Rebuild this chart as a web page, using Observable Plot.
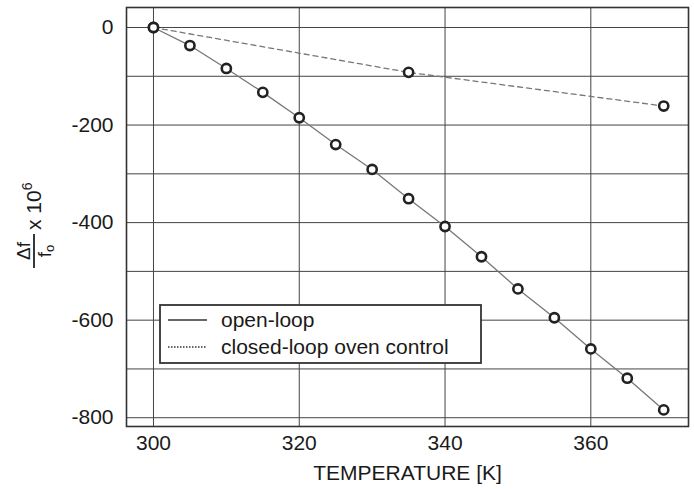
<!DOCTYPE html>
<html>
<head>
<meta charset="utf-8">
<script src="https://cdn.jsdelivr.net/npm/d3@7"></script>
<script src="https://cdn.jsdelivr.net/npm/@observablehq/plot@0.6"></script>
<style>
  html, body { margin: 0; padding: 0; background: #fff; }
  #chart { width: 694px; height: 489px; }
</style>
</head>
<body>
<div id="chart"></div>
<script>
// Data
const openTemps  = [300, 305, 310, 315, 320, 325, 330, 335, 340, 345, 350, 355, 360, 365, 370];
const openValues = [0, -37, -84, -133, -185, -240, -291, -351, -408, -470, -536, -595, -659, -719, -784];
const closedTemps  = [300, 335, 370];
const closedValues = [0, -92, -161];
const xTicks = [300, 320, 340, 360];
const yTicks = [0, -200, -400, -600, -800];
const yGrid = [0, -100, -200, -300, -400, -500, -600, -700, -800];
const xLabel = "TEMPERATURE [K]";
const seriesNames = ["open-loop", "closed-loop oven control"];

const openData = openTemps.map((t, i) => ({t, v: openValues[i]}));
const closedData = closedTemps.map((t, i) => ({t, v: closedValues[i]}));

const font = "'Liberation Sans', Arial, Helvetica, sans-serif";

const svg = Plot.plot({
  width: 694,
  height: 489,
  marginLeft: 126,
  marginRight: 6,
  marginTop: 7,
  marginBottom: 63,
  style: {background: "#fff", fontFamily: font, color: "#1a1a1a"},
  x: {domain: [296.3, 373.4]},
  y: {domain: [-818, 41]},
  marks: [
    Plot.ruleX(xTicks, {stroke: "#444", strokeWidth: 1}),
    Plot.ruleY(yGrid, {stroke: "#444", strokeWidth: 1}),
    Plot.frame({stroke: "#333", strokeWidth: 1.6}),
    Plot.line(closedData, {x: "t", y: "v", stroke: "#777", strokeWidth: 1.3, strokeDasharray: "5,4"}),
    Plot.line(openData, {x: "t", y: "v", stroke: "#777", strokeWidth: 1.3}),
    Plot.dot(closedData, {x: "t", y: "v", r: 4.6, fill: "#fff", stroke: "#222", strokeWidth: 2.6}),
    Plot.dot(openData, {x: "t", y: "v", r: 4.6, fill: "#fff", stroke: "#222", strokeWidth: 2.6}),
    Plot.axisX({ticks: xTicks, tickSize: 0, tickPadding: 9, fontSize: 21, label: null, tickFormat: d => String(d)}),
    Plot.axisY({ticks: yTicks, tickSize: 0, tickPadding: 13, fontSize: 21, label: null, tickFormat: d => String(d)}),
    Plot.text([xLabel], {frameAnchor: "bottom", dy: 47, fontSize: 21, lineAnchor: "middle", fill: "#1a1a1a"})
  ]
});

document.getElementById("chart").appendChild(svg);

const s = d3.select(svg);

// Y-axis label: Δf / f_o x 10^6 (rotated)
const g = s.append("g")
  .attr("transform", "translate(34,268) rotate(-90)")
  .attr("font-family", font)
  .attr("font-size", 19)
  .attr("fill", "#1a1a1a");
g.append("text").attr("x", 17).attr("y", -4).attr("text-anchor", "middle").text("Δf");
g.append("line").attr("x1", 0).attr("x2", 34).attr("y1", 0).attr("y2", 0)
  .attr("stroke", "#222").attr("stroke-width", 1.8);
const den = g.append("text").attr("x", 17).attr("y", 17).attr("text-anchor", "middle");
den.append("tspan").text("f");
den.append("tspan").attr("font-size", 13).attr("dy", 3).text("o");
const mul = g.append("text").attr("x", 38).attr("y", 7).attr("text-anchor", "start").attr("font-size", 21);
mul.append("tspan").text("x 10");
mul.append("tspan").attr("font-size", 14).attr("dy", -9).text("6");

// Legend box
const lg = s.append("g").attr("font-family", font).attr("font-size", 21).attr("fill", "#1a1a1a");
lg.append("rect").attr("x", 160).attr("y", 305).attr("width", 321).attr("height", 58)
  .attr("fill", "#fff").attr("stroke", "#333").attr("stroke-width", 1.8);
lg.append("line").attr("x1", 168).attr("x2", 207).attr("y1", 320).attr("y2", 320)
  .attr("stroke", "#333").attr("stroke-width", 1.3);
lg.append("line").attr("x1", 168).attr("x2", 207).attr("y1", 347).attr("y2", 347)
  .attr("stroke", "#333").attr("stroke-width", 1.3).attr("stroke-dasharray", "1.5,1.5");
lg.append("text").attr("x", 221).attr("y", 320).attr("dy", "0.35em").attr("text-anchor", "start").text(seriesNames[0]);
lg.append("text").attr("x", 221).attr("y", 347).attr("dy", "0.35em").attr("text-anchor", "start").text(seriesNames[1]);
</script>
</body>
</html>
